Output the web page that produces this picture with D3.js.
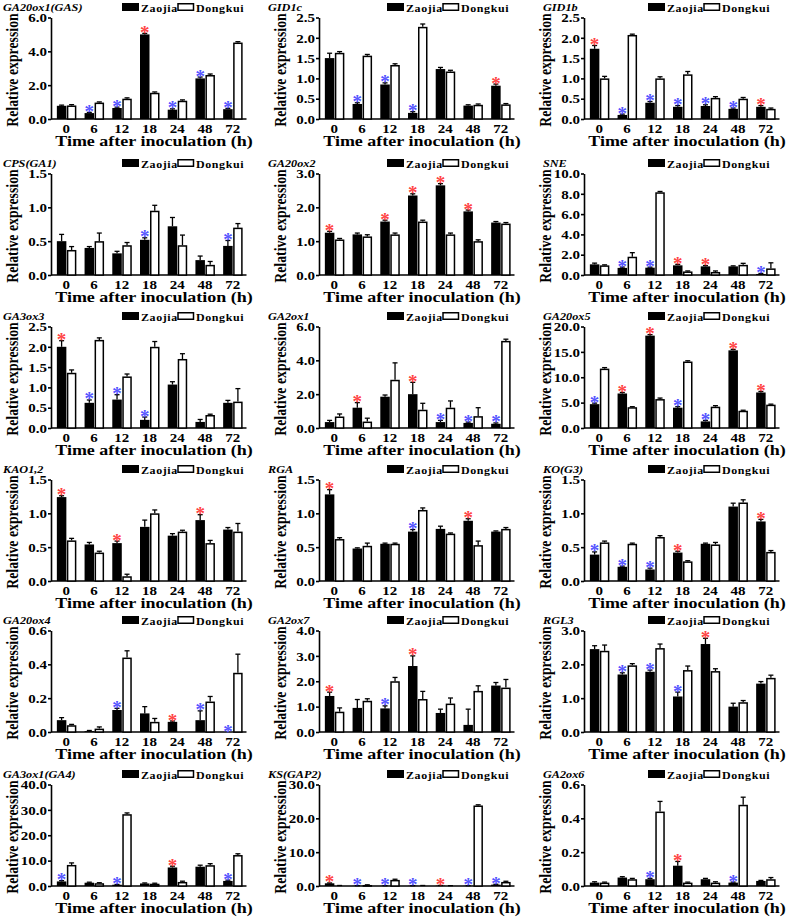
<!DOCTYPE html>
<html><head><meta charset="utf-8">
<script src="https://cdn.jsdelivr.net/npm/d3@7"></script>
<style>
body{margin:0;background:#fff}
svg{display:block}
text{font-family:"Liberation Serif","Times New Roman",serif;font-weight:bold;fill:#000}
</style>
</head><body>
<svg id="c" width="791" height="922"></svg>
<script>
const categories = ["0","6","12","18","24","48","72"];
const genes = ["GA20ox1(GAS)","GID1c","GID1b","CPS(GA1)","GA20ox2","SNE","GA3ox3","GA2ox1","GA20ox5",
               "KAO1,2","RGA","KO(G3)","GA20ox4","GA2ox7","RGL3","GA3ox1(GA4)","KS(GAP2)","GA2ox6"];
const seriesNames = ["Zaojia","Dongkui"];
const yMax  = [6,2.5,2.5, 1.5,3,10, 2.5,6,20, 1.5,1.5,1.5, 0.6,4,3, 40,30,0.6];
const yStep = [2,0.5,0.5, 0.5,1,2, 0.5,2,5, 0.5,0.5,0.5, 0.2,1,1, 10,10,0.2];

const zaojia = [
  [0.78,0.35,0.65,5.0,0.55,2.4,0.58],
  [1.5,0.37,0.85,0.15,1.23,0.33,0.82],
  [1.73,0.1,0.4,0.3,0.32,0.25,0.3],
  [0.5,0.4,0.32,0.52,0.72,0.22,0.43],
  [1.25,1.2,1.58,2.35,2.65,1.88,1.55],
  [1.05,0.7,0.72,0.95,0.85,0.85,0.1],
  [2.0,0.62,0.7,0.2,1.07,0.15,0.62],
  [0.35,1.2,1.85,2.0,0.35,0.3,0.25],
  [4.7,6.8,18.2,4.0,1.3,15.3,7.0],
  [1.24,0.54,0.56,0.8,0.67,0.9,0.76],
  [1.28,0.48,0.55,0.73,0.77,0.89,0.73],
  [0.39,0.21,0.17,0.42,0.55,1.1,0.88],
  [0.07,0.005,0.13,0.11,0.06,0.07,0.0],
  [1.42,0.95,0.93,2.6,0.75,0.28,1.83],
  [2.45,1.7,1.78,1.05,2.6,0.75,1.43],
  [1.8,1.3,0.5,1.0,7.3,7.6,2.0],
  [0.8,0.05,0.05,0.05,0.1,0.05,0.4],
  [0.02,0.05,0.04,0.12,0.04,0.02,0.03]
];
const zaojiaErr = [
  [0.04,0.04,0.05,0.06,0.05,0.08,0.05],
  [0.12,0.03,0.04,0.03,0.04,0.02,0.04],
  [0.08,0.02,0.03,0.03,0.03,0.02,0.03],
  [0.1,0.02,0.03,0.03,0.13,0.06,0.08],
  [0.04,0.04,0.04,0.05,0.05,0.04,0.03],
  [0.12,0.08,0.05,0.1,0.08,0.05,0.05],
  [0.15,0.07,0.12,0.07,0.07,0.06,0.06],
  [0.1,0.3,0.1,0.7,0.1,0.05,0.05],
  [0.2,0.2,0.2,0.2,0.2,0.2,0.2],
  [0.02,0.03,0.03,0.1,0.03,0.08,0.03],
  [0.07,0.01,0.01,0.03,0.04,0.03,0.01],
  [0.04,0.01,0.02,0.02,0.01,0.05,0.03],
  [0.015,0.004,0.01,0.04,0.005,0.055,0.0],
  [0.15,0.33,0.1,0.4,0.15,0.62,0.12],
  [0.1,0.05,0.05,0.13,0.17,0.1,0.06],
  [0.3,0.2,0.1,0.2,0.5,0.6,0.3],
  [0.1,0.05,0.05,0.05,0.05,0.05,0.1],
  [0.005,0.005,0.005,0.025,0.005,0.003,0.003]
];
const dongkui = [
  [0.8,0.97,1.2,1.55,1.08,2.6,4.52],
  [1.63,1.56,1.33,2.27,1.17,0.35,0.36],
  [1.0,2.07,1.0,1.1,0.52,0.5,0.25],
  [0.37,0.5,0.44,0.95,0.44,0.15,0.7],
  [1.05,1.14,1.2,1.58,1.2,1.0,1.52],
  [0.95,1.8,8.15,0.35,0.3,1.0,0.65],
  [1.36,2.17,1.27,2.0,1.7,0.32,0.65],
  [0.68,0.38,2.85,1.08,1.2,0.7,5.15],
  [11.7,4.1,5.7,13.1,4.2,3.4,4.6],
  [0.6,0.42,0.07,1.0,0.73,0.56,0.73],
  [0.62,0.52,0.55,1.05,0.7,0.53,0.77],
  [0.57,0.55,0.65,0.29,0.54,1.16,0.43],
  [0.04,0.02,0.44,0.06,0.0,0.18,0.35],
  [0.8,1.23,2.0,1.3,1.12,1.62,1.75],
  [2.4,1.97,2.48,1.83,1.8,0.88,1.6],
  [8.3,1.1,28.3,0.9,1.6,8.2,12.2],
  [0.1,0.3,1.8,0.1,0.05,23.8,1.2],
  [0.02,0.04,0.44,0.02,0.02,0.48,0.04]
];
const dongkuiErr = [
  [0.05,0.04,0.05,0.05,0.05,0.06,0.05],
  [0.03,0.03,0.03,0.07,0.03,0.02,0.02],
  [0.05,0.02,0.04,0.07,0.03,0.03,0.02],
  [0.05,0.12,0.04,0.08,0.15,0.05,0.06],
  [0.03,0.05,0.04,0.04,0.04,0.04,0.03],
  [0.05,0.4,0.08,0.05,0.1,0.15,0.55],
  [0.07,0.05,0.06,0.13,0.13,0.02,0.32],
  [0.15,0.2,1.0,0.38,0.4,0.5,0.1],
  [0.2,0.1,0.2,0.15,0.2,0.1,0.1],
  [0.03,0.02,0.03,0.05,0.02,0.04,0.12],
  [0.02,0.04,0.01,0.03,0.01,0.06,0.02],
  [0.02,0.01,0.02,0.01,0.03,0.04,0.02],
  [0.005,0.01,0.04,0.02,0.0,0.03,0.11],
  [0.15,0.08,0.15,0.3,0.22,0.2,0.32],
  [0.17,0.05,0.12,0.12,0.07,0.05,0.08],
  [0.8,0.2,0.5,0.2,0.3,0.6,0.5],
  [0.05,0.05,0.2,0.05,0.05,0.2,0.2],
  [0.003,0.005,0.06,0.003,0.005,0.045,0.01]
];
// significance marks above Zaojia bars: r = red, b = blue, - = none
const stars = [
  "-bbrbbb","-bbb--r","rbbbbbr",
  "---b--b","r-rrrr-","-bbrr-b",
  "rbbb---","-r-rbbb","brrbbrr",
  "r-r--r-","r--b-r-","bbbr--r",
  "--b-rbb","r-br---","-bbbr--",
  "b-b-r-b","rbbbrbb","--br-b-"
];

const starColor = {r:"#ff4444", b:"#5555ff"};
const rowY = [0,156,309,462,613,767];
const colX = [0,268,533];
const titleX = [3,0,10];
const legendX = [122,119,115];
const SX = 1.2;   // horizontal stretch of the original lettering

const svg = d3.select("#c");

function label(sel, x, y, size, txt, anchor){
  return sel.append("text").attr("transform",`translate(${x},${y}) scale(${SX},1)`)
    .attr("font-size",size).attr("text-anchor",anchor||"start").text(txt);
}

genes.forEach((gene,i)=>{
  const r = Math.floor(i/3), c = i%3;
  const g = svg.append("g").attr("transform",`translate(${colX[c]},${rowY[r]})`);
  const x0 = 51, yb = 119;
  const x = d3.scaleBand().domain(categories).range([52.5,246.5]);
  const y = d3.scaleLinear().domain([0,yMax[i]]).range([yb,17.5]);
  const bw = 9.5;
  const cx = d => x(d)+x.bandwidth()/2;

  // title
  label(g, titleX[c], 11, 10.2, gene).attr("font-style","italic");
  // legend
  const lx = legendX[c];
  g.append("rect").attr("x",lx).attr("y",3).attr("width",17).attr("height",8).attr("fill","#000");
  label(g, lx+19, 11.5, 10, seriesNames[0]).attr("letter-spacing",0.5);
  g.append("rect").attr("x",lx+56).attr("y",3.75).attr("width",15.5).attr("height",6.5)
    .attr("fill","#fff").attr("stroke","#000").attr("stroke-width",1.5);
  label(g, lx+74, 11.5, 10, seriesNames[1]).attr("letter-spacing",0.5);

  // y axis
  const ticks = d3.range(0,yMax[i]+yStep[i]/2,yStep[i]);
  const ya = g.append("g").attr("transform",`translate(${x0},0)`)
    .call(d3.axisLeft(y).tickValues(ticks).tickFormat(d3.format(".1f")).tickSize(3).tickSizeOuter(0));
  ya.select(".domain").attr("stroke-width",1.6);
  ya.selectAll(".tick line").attr("stroke-width",1.6);
  ya.selectAll(".tick text").attr("x",null).attr("dy",null)
    .attr("transform",`translate(-4,4.2) scale(${SX},1)`)
    .attr("font-size",12.5).attr("font-family",null).attr("font-weight","bold");

  // x axis
  const xa = g.append("g").attr("transform",`translate(0,${yb})`)
    .call(d3.axisBottom(x).tickSize(0).tickSizeOuter(0));
  xa.select(".domain").attr("stroke-width",1.6).attr("d",`M${x0},0H246.5`);
  xa.selectAll(".tick text").attr("y",null).attr("dy",null)
    .attr("transform",`translate(0,13.5) scale(${SX},1)`)
    .attr("font-size",12.5).attr("font-family",null).attr("font-weight","bold");

  // axis titles
  g.append("text").attr("transform",`translate(17.5,70) scale(1.15,1) rotate(-90)`).attr("text-anchor","middle")
    .attr("font-size",13.8).text("Relative expression");
  label(g, 154, 145.5, 15, "Time after inoculation (h)", "middle");

  const bars = g.append("g");
  // error bars (upward only)
  categories.forEach((cat,k)=>{
    const pairs = [[cx(cat)-bw/2, zaojia[i][k], zaojiaErr[i][k]],[cx(cat)+0.5+bw/2, dongkui[i][k], dongkuiErr[i][k]]];
    pairs.forEach(([px,v,e])=>{
      if(e<=0) return;
      bars.append("line").attr("x1",px).attr("x2",px).attr("y1",y(v)).attr("y2",y(v+e))
        .attr("stroke","#000").attr("stroke-width",1.3);
      bars.append("line").attr("x1",px-2.5).attr("x2",px+2.5).attr("y1",y(v+e)).attr("y2",y(v+e))
        .attr("stroke","#000").attr("stroke-width",1.3);
    });
  });
  // Zaojia bars
  bars.selectAll("rect.z").data(categories).join("rect").attr("class","z")
    .attr("x",d=>cx(d)-bw).attr("width",bw)
    .attr("y",(d,k)=>y(zaojia[i][k])).attr("height",(d,k)=>y(0)-y(zaojia[i][k]))
    .attr("fill","#000");
  // Dongkui bars
  bars.selectAll("rect.d").data(categories).join("rect").attr("class","d")
    .attr("x",d=>cx(d)+1.25).attr("width",bw-1.5)
    .attr("y",(d,k)=>y(dongkui[i][k])+0.75).attr("height",(d,k)=>Math.max(0,y(0)-y(dongkui[i][k])-0.75))
    .attr("fill","#fff").attr("stroke","#000").attr("stroke-width",1.5);
  // stars
  categories.forEach((cat,k)=>{
    const s = stars[i][k];
    if(s==="-") return;
    g.append("text").attr("x",cx(cat)-bw/2).attr("y",y(zaojia[i][k]+zaojiaErr[i][k])+5.5)
      .attr("text-anchor","middle").attr("font-size",19).style("fill",starColor[s]).text("*");
  });
});
</script>
</body></html>
